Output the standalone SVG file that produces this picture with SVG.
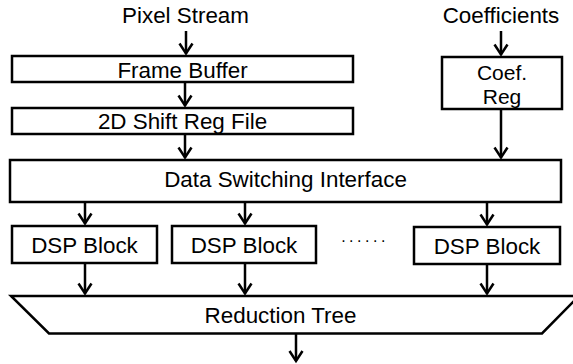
<svg xmlns="http://www.w3.org/2000/svg" width="573" height="364" viewBox="0 0 573 364">
  <style>
    .box { fill: #ffffff; stroke: #000000; stroke-width: 2.5; }
    .lbl { font-family: "Liberation Sans", Arial, sans-serif; font-size: 22.4px; fill: #000000; text-anchor: middle; }
    .wire { fill: none; stroke: #000000; stroke-width: 2.5; marker-end: url(#arrow); }
  </style>
  <defs>
    <marker id="arrow" viewBox="-13 -9 16 18" markerWidth="16" markerHeight="18" refX="0" refY="0" markerUnits="userSpaceOnUse" orient="auto">
      <path d="M-10,-6.5 L0,0 L-10,6.5" fill="none" stroke="#000000" stroke-width="2.5"/>
    </marker>
  </defs>

  <rect width="573" height="364" fill="#ffffff"/>

  <!-- external inputs -->
  <g id="pixel-stream">
    <text class="lbl" x="185.5" y="22.7">Pixel Stream</text>
  </g>
  <g id="coefficients">
    <text class="lbl" x="501" y="22.7">Coefficients</text>
  </g>

  <!-- storage -->
  <g id="frame-buffer">
    <rect class="box" x="12" y="56" width="341" height="26"/>
    <text class="lbl" x="182.5" y="77.5">Frame Buffer</text>
  </g>
  <g id="shift-reg-file">
    <rect class="box" x="12" y="108" width="341" height="26"/>
    <text class="lbl" x="182.5" y="129.3">2D Shift Reg File</text>
  </g>
  <g id="coef-reg">
    <rect class="box" x="442" y="57" width="120" height="52"/>
    <text class="lbl" x="502" y="80" style="font-size:21px">Coef.</text>
    <text class="lbl" x="502" y="104" style="font-size:21px">Reg</text>
  </g>

  <!-- routing -->
  <g id="data-switching-interface">
    <rect class="box" x="10" y="160" width="551" height="42"/>
    <text class="lbl" x="285.5" y="186.7">Data Switching Interface</text>
  </g>

  <!-- processing elements -->
  <g id="dsp-block-1">
    <rect class="box" x="12" y="226" width="145" height="37"/>
    <text class="lbl" x="84.5" y="253.3">DSP Block</text>
  </g>
  <g id="dsp-block-2">
    <rect class="box" x="172" y="226" width="144" height="37"/>
    <text class="lbl" x="244" y="253.3">DSP Block</text>
  </g>
  <g id="ellipsis">
    <text x="365" y="242" style="font-family:'Liberation Sans',Arial,sans-serif;font-size:16px;letter-spacing:3.5px;text-anchor:middle">......</text>
  </g>
  <g id="dsp-block-3">
    <rect class="box" x="414" y="227" width="146" height="37"/>
    <text class="lbl" x="487" y="254">DSP Block</text>
  </g>

  <!-- reduction -->
  <g id="reduction-tree">
    <path class="box" d="M11,296 L579,296 L542,333.5 L49,333.5 Z"/>
    <text class="lbl" x="280.5" y="323.3">Reduction Tree</text>
  </g>

  <!-- connectors -->
  <g id="connectors">
    <line class="wire" x1="186" y1="31" x2="186" y2="53.5"/>
    <line class="wire" x1="501" y1="31" x2="501" y2="54.5"/>
    <line class="wire" x1="185" y1="82" x2="185" y2="105.5"/>
    <line class="wire" x1="185" y1="134" x2="185" y2="157.5"/>
    <line class="wire" x1="501" y1="109" x2="501" y2="157.5"/>
    <line class="wire" x1="85" y1="202" x2="85" y2="223.5"/>
    <line class="wire" x1="245" y1="202" x2="245" y2="223.5"/>
    <line class="wire" x1="487" y1="202" x2="487" y2="224.5"/>
    <line class="wire" x1="85" y1="263" x2="85" y2="293.5"/>
    <line class="wire" x1="245" y1="263" x2="245" y2="293.5"/>
    <line class="wire" x1="487" y1="264" x2="487" y2="293.5"/>
    <line class="wire" x1="296" y1="334" x2="296" y2="361"/>
  </g>
</svg>
